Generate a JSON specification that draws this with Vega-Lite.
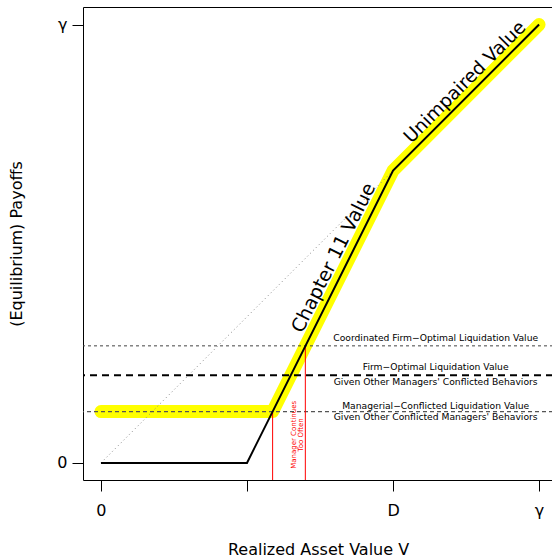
{
  "$schema": "https://vega.github.io/schema/vega-lite/v6.json",
  "autosize": "none",
  "width": 470,
  "height": 473,
  "padding": {"left": 83, "top": 7, "right": 0, "bottom": 77},
  "config": {
    "font": "DejaVu Sans",
    "view": {"stroke": "#000000", "strokeWidth": 1},
    "axis": {"grid": false, "domain": false, "tickColor": "#000000", "tickSize": 11, "labelColor": "#000000", "titleColor": "#000000", "labelFont": "DejaVu Sans", "titleFont": "DejaVu Sans", "labelFontSize": 16, "titleFontSize": 16, "titleFontWeight": "normal"}
  },
  "datasets": {
    "payoff": [
      {"v": 0, "p": 0}, {"v": 0.3333, "p": 0}, {"v": 0.6667, "p": 0.6667}, {"v": 1, "p": 1}
    ],
    "yellow": [
      {"v": 0, "p": 0.117}, {"v": 0.3918, "p": 0.117}, {"v": 0.6667, "p": 0.6667}, {"v": 1, "p": 1}
    ],
    "diag": [
      {"v": 0, "p": 0}, {"v": 1, "p": 1}
    ],
    "levels": [
      {"name": "coordinated", "p": 0.267},
      {"name": "firm", "p": 0.2},
      {"name": "managerial", "p": 0.117}
    ],
    "red": [
      {"v": 0.3918, "p": 0.117, "p0": -0.039},
      {"v": 0.4665, "p": 0.267, "p0": -0.039}
    ],
    "labels": [
      {"v": 0.764, "p": 0.285, "t": "Coordinated Firm−Optimal Liquidation Value"},
      {"v": 0.764, "p": 0.2197, "t": "Firm−Optimal Liquidation Value"},
      {"v": 0.764, "p": 0.1855, "t": "Given Other Managers' Conflicted Behaviors"},
      {"v": 0.764, "p": 0.130, "t": "Managerial−Conflicted Liquidation Value"},
      {"v": 0.764, "p": 0.104, "t": "Given Other Conflicted Managers' Behaviors"}
    ]
  },
  "layer": [
    {
      "data": {"name": "yellow"},
      "mark": {"type": "line", "color": "#FFFF00", "strokeWidth": 13, "strokeCap": "round", "strokeJoin": "round"},
      "encoding": {
        "x": {"field": "v", "type": "quantitative", "scale": {"domain": [-0.041, 1.0318], "nice": false, "zero": false},
              "axis": {"values": [0, 0.3333, 0.6667, 1], "labelExpr": "datum.value == 0 ? '0' : datum.value > 0.9 ? 'γ' : datum.value > 0.5 ? 'D' : ''", "labelPadding": 11, "title": "Realized Asset Value V", "titlePadding": 23}},
        "y": {"field": "p", "type": "quantitative", "scale": {"domain": [-0.039, 1.040], "nice": false, "zero": false},
              "axis": {"values": [0, 1], "labelExpr": "datum.value == 0 ? '0' : 'γ'", "labelPadding": 5, "title": "(Equilibrium) Payoffs", "titlePadding": 32}},
        "order": {"field": "v"}
      }
    },
    {
      "data": {"name": "diag"},
      "mark": {"type": "line", "color": "#888888", "strokeWidth": 1, "strokeDash": [1, 3]},
      "encoding": {
        "x": {"field": "v", "type": "quantitative"},
        "y": {"field": "p", "type": "quantitative"}
      }
    },
    {
      "data": {"name": "levels"},
      "transform": [{"filter": "datum.name == 'coordinated'"}],
      "mark": {"type": "rule", "color": "#444444", "strokeWidth": 1, "strokeDash": [3, 3]},
      "encoding": {"y": {"field": "p", "type": "quantitative"}}
    },
    {
      "data": {"name": "levels"},
      "transform": [{"filter": "datum.name == 'firm'"}],
      "mark": {"type": "rule", "color": "#000000", "strokeWidth": 2, "strokeDash": [7, 5]},
      "encoding": {"y": {"field": "p", "type": "quantitative"}}
    },
    {
      "data": {"name": "levels"},
      "transform": [{"filter": "datum.name == 'managerial'"}],
      "mark": {"type": "rule", "color": "#555555", "strokeWidth": 1.3, "strokeDash": [4, 3]},
      "encoding": {"y": {"field": "p", "type": "quantitative"}}
    },
    {
      "data": {"name": "red"},
      "mark": {"type": "rule", "color": "#FF0000", "strokeWidth": 1},
      "encoding": {
        "x": {"field": "v", "type": "quantitative"},
        "y": {"field": "p", "type": "quantitative"},
        "y2": {"field": "p0"}
      }
    },
    {
      "data": {"name": "payoff"},
      "mark": {"type": "line", "color": "#000000", "strokeWidth": 2, "strokeJoin": "miter"},
      "encoding": {
        "x": {"field": "v", "type": "quantitative"},
        "y": {"field": "p", "type": "quantitative"},
        "order": {"field": "v"}
      }
    },
    {
      "data": {"name": "labels"},
      "mark": {"type": "text", "fontSize": 9.2, "color": "#000000", "align": "center", "baseline": "middle"},
      "encoding": {
        "x": {"field": "v", "type": "quantitative"},
        "y": {"field": "p", "type": "quantitative"},
        "text": {"field": "t"}
      }
    },
    {
      "data": {"values": [{"v": 0.4415, "p": 0.064, "t": ["Manager Continues", "Too Often"]}]},
      "mark": {"type": "text", "fontSize": 7, "color": "#FF0000", "align": "center", "baseline": "middle", "angle": 270, "lineHeight": 7},
      "encoding": {
        "x": {"field": "v", "type": "quantitative"},
        "y": {"field": "p", "type": "quantitative"},
        "text": {"field": "t"}
      }
    },
    {
      "data": {"values": [{"v": 0.531, "p": 0.468, "t": "Chapter 11 Value"}]},
      "mark": {"type": "text", "fontSize": 19, "color": "#000000", "align": "center", "baseline": "middle", "angle": 296.6},
      "encoding": {
        "x": {"field": "v", "type": "quantitative"},
        "y": {"field": "p", "type": "quantitative"},
        "text": {"field": "t"}
      }
    },
    {
      "data": {"values": [{"v": 0.8305, "p": 0.869, "t": "Unimpaired Value"}]},
      "mark": {"type": "text", "fontSize": 18.5, "color": "#000000", "align": "center", "baseline": "middle", "angle": 315},
      "encoding": {
        "x": {"field": "v", "type": "quantitative"},
        "y": {"field": "p", "type": "quantitative"},
        "text": {"field": "t"}
      }
    }
  ]
}
